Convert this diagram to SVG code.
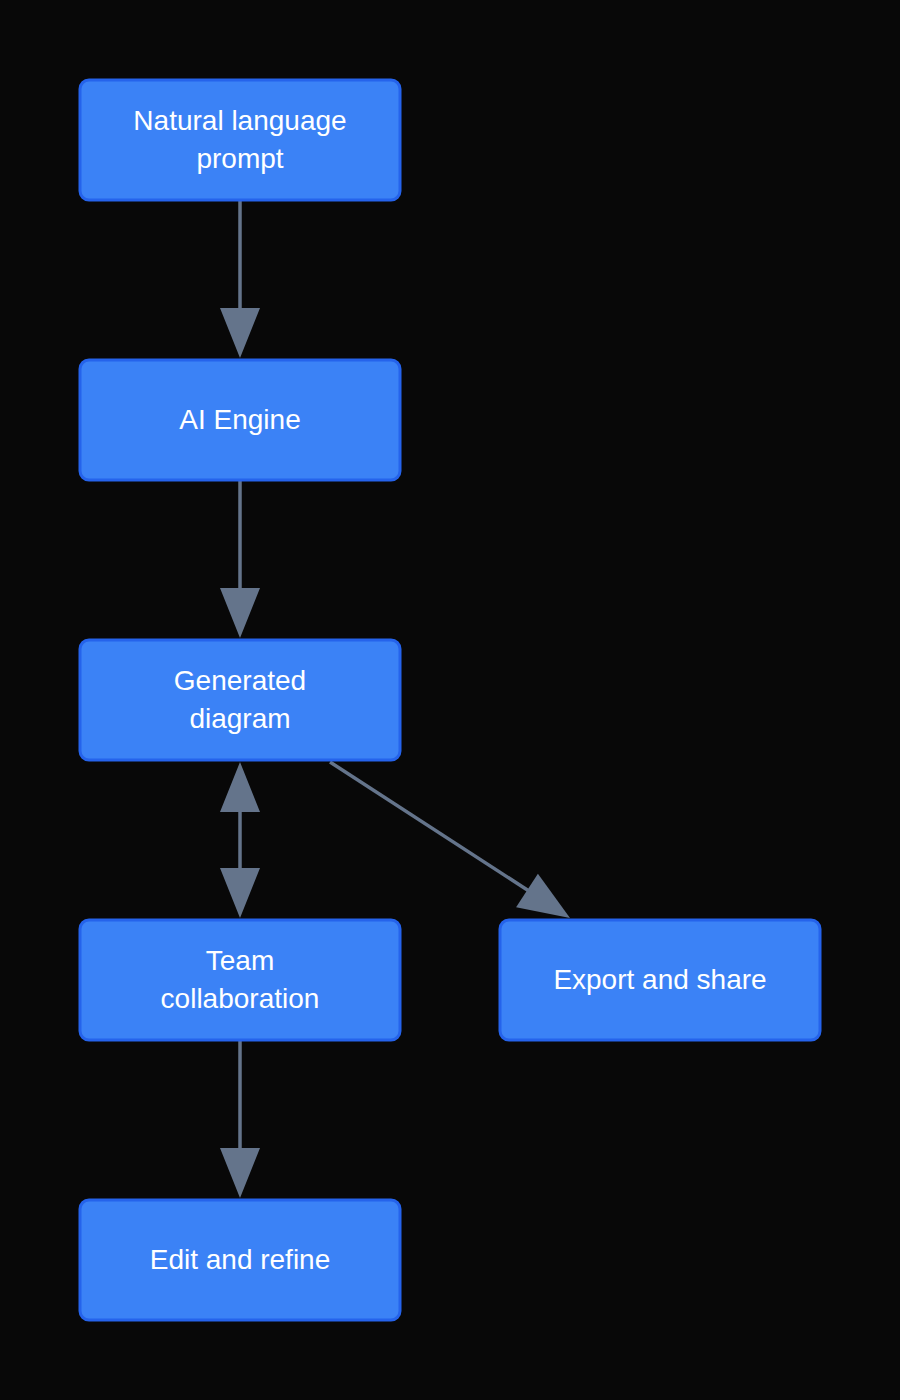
<svg xmlns="http://www.w3.org/2000/svg" width="900" height="1400" viewBox="0 0 900 1400">
<defs>
<style>
.node rect{fill:#3b82f6;stroke:#2563eb;stroke-width:3}
.node text{fill:#ffffff;font-family:"Liberation Sans",Arial,sans-serif;font-size:28px;text-anchor:middle}
.edge{stroke:#64748b;stroke-width:3.5;fill:none}
.head{fill:#64748b}
</style>
</defs>
<rect width="900" height="1400" fill="#080808"/>
<g id="connectors">
<line class="edge" x1="240" y1="200" x2="240" y2="312"/>
<polygon class="head" points="220,308 260,308 240,358"/>
<line class="edge" x1="240" y1="480" x2="240" y2="592"/>
<polygon class="head" points="220,588 260,588 240,638"/>
<line class="edge" x1="240" y1="808" x2="240" y2="872"/>
<polygon class="head" points="240,762 260,812 220,812"/>
<polygon class="head" points="220,868 260,868 240,918"/>
<line class="edge" x1="330" y1="762" x2="532" y2="893"/>
<polygon class="head" points="570,918 516.1,907.3 537.9,873.7"/>
<line class="edge" x1="240" y1="1040" x2="240" y2="1152"/>
<polygon class="head" points="220,1148 260,1148 240,1198"/>
</g>
<g id="n1" class="node"><rect x="80" y="80" width="320" height="120" rx="9"/><text x="240" y="129.5">Natural language</text><text x="240" y="167.5">prompt</text></g>
<g id="n2" class="node"><rect x="80" y="360" width="320" height="120" rx="9"/><text x="240" y="428.5">AI Engine</text></g>
<g id="n3" class="node"><rect x="80" y="640" width="320" height="120" rx="9"/><text x="240" y="689.5">Generated</text><text x="240" y="727.5">diagram</text></g>
<g id="n4" class="node"><rect x="80" y="920" width="320" height="120" rx="9"/><text x="240" y="969.5">Team</text><text x="240" y="1007.5">collaboration</text></g>
<g id="n5" class="node"><rect x="500" y="920" width="320" height="120" rx="9"/><text x="660" y="988.5">Export and share</text></g>
<g id="n6" class="node"><rect x="80" y="1200" width="320" height="120" rx="9"/><text x="240" y="1268.5">Edit and refine</text></g>
</svg>
